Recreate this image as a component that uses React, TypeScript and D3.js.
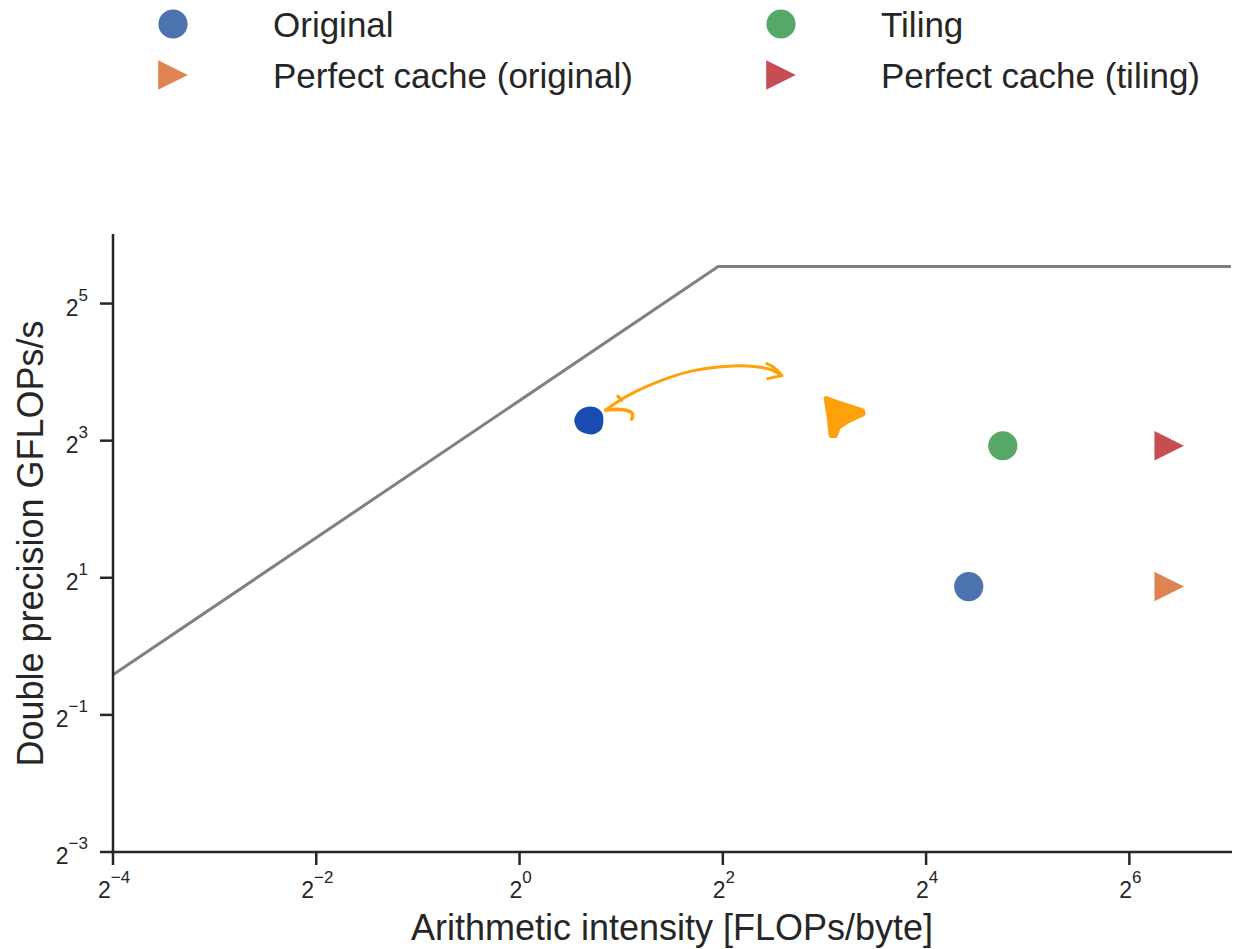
import React from "react";
import * as d3 from "d3";

// Roofline model parameters
const PEAK_GFLOPS = 46.5;
const BANDWIDTH_GBS = 12;

// Measured kernels
const seriesNames = ["Original", "Tiling", "Perfect cache (original)", "Perfect cache (tiling)"];
const intensity = [21.4, 27.0, 84, 84];
const gflops = [1.83, 7.6, 1.83, 7.6];
const seriesColors = ["#4C72B0", "#55A868", "#DD8452", "#C44E52"];
const seriesMarkers = ["circle", "circle", "triangle", "triangle"];

// Legend layout: two columns, rows filled column-wise
const legendOrder = [0, 2, 1, 3];

// Axis ticks (log2 exponents)
const xTickExps = [-4, -2, 0, 2, 4, 6];
const yTickExps = [-3, -1, 1, 3, 5];

// Hand-drawn annotation: a kernel moved from one spot to another
const annotBlob = { x: 1.61, y: 9.8 };
const annotTriangle = { x: 9.09, y: 10.41 };
const annotArrow: [number, number][] = [
  [1.8, 10.9],
  [2.05, 12.4],
  [2.6, 14.6],
  [3.25, 16.2],
  [4.05, 16.95],
  [4.95, 16.95],
  [5.55, 16.4],
  [5.98, 15.44],
];

const W = 1236;
const H = 949;
const AX = "#262626";
const FONT = "'Liberation Sans', Arial, Helvetica, sans-serif";
const ORANGE = "#FFA10A";

const x = d3.scaleLog().base(2).domain([2 ** -4, 2 ** 7]).range([113, 1231]);
const y = d3.scaleLog().base(2).domain([2 ** -3, 2 ** 6]).range([852, 235]);

function Marker({ kind, cx, cy, color }: { kind: string; cx: number; cy: number; color: string }) {
  if (kind === "circle") return <circle cx={cx} cy={cy} r={14.6} fill={color} />;
  const s = 14.8;
  return (
    <path
      d={`M${cx + s},${cy} L${cx - s},${cy - s} L${cx - s},${cy + s} Z`}
      fill={color}
    />
  );
}

function Pow2({ exp, fs, supFs, supDy }: { exp: number; fs: number; supFs: number; supDy: number }) {
  const s = exp < 0 ? `\u2212${Math.abs(exp)}` : `${exp}`;
  return (
    <>
      <tspan fontSize={fs}>2</tspan>
      <tspan fontSize={supFs} dy={supDy}>
        {s}
      </tspan>
    </>
  );
}

export default function App() {
  const xMin = x.domain()[0];
  const xMax = x.domain()[1];
  const ridge = PEAK_GFLOPS / BANDWIDTH_GBS;
  const roofPts: [number, number][] = [
    [xMin, xMin * BANDWIDTH_GBS],
    [ridge, PEAK_GFLOPS],
    [xMax, PEAK_GFLOPS],
  ];
  const roofLine = d3
    .line<[number, number]>()
    .x((d) => x(d[0]))
    .y((d) => y(d[1]))(roofPts);

  const arrowPath = d3
    .line<[number, number]>()
    .x((d) => x(d[0]))
    .y((d) => y(d[1]))
    .curve(d3.curveCatmullRom)(annotArrow);

  const aStart = annotArrow[0];
  const aEnd = annotArrow[annotArrow.length - 1];
  const sx = x(aStart[0]);
  const sy = y(aStart[1]);
  const ex = x(aEnd[0]);
  const ey = y(aEnd[1]);

  // Irregular blob outline
  const blobR = [14.4, 15.0, 14.0, 14.8, 14.2, 13.6, 14.5, 15.1, 14.3, 13.9];
  const bx = x(annotBlob.x);
  const by = y(annotBlob.y);
  const blobPath = d3
    .lineRadial<number>()
    .angle((_, i) => (i / blobR.length) * 2 * Math.PI)
    .radius((d) => d)
    .curve(d3.curveCardinalClosed)(blobR);

  const tx = x(annotTriangle.x);
  const ty = y(annotTriangle.y);
  const triShape: [number, number][] = [
    [-17, -16], [-6, -12], [19, -4], [20, -1], [5, 6], [-1, 10], [-5, 13],
    [-8, 21], [-12, 21], [-14, 3],
  ];
  const triPath = d3
    .line<[number, number]>()
    .x((d) => tx + d[0])
    .y((d) => ty + d[1])
    .curve(d3.curveLinearClosed)(triShape);

  const axisMidX = (x.range()[0] + x.range()[1]) / 2;
  const axisMidY = (y.range()[0] + y.range()[1]) / 2;

  return (
    <svg
      width={W}
      height={H}
      viewBox={`0 0 ${W} ${H}`}
      style={{ position: "absolute", left: 0, top: 0, background: "#fff" }}
      fontFamily={FONT}
    >
      <rect width={W} height={H} fill="#fff" />

      {/* Legend */}
      {legendOrder.map((si, k) => {
        const col = Math.floor(k / 2);
        const row = k % 2;
        const mx = col === 0 ? 173 : 781;
        const my = row === 0 ? 24 : 75;
        return (
          <g key={si}>
            <Marker kind={seriesMarkers[si]} cx={mx} cy={my} color={seriesColors[si]} />
            <text x={mx + 100} y={my + 13} fontSize={35} fill={AX}>
              {seriesNames[si]}
            </text>
          </g>
        );
      })}

      {/* Roofline */}
      <path d={roofLine ?? ""} fill="none" stroke="#808080" strokeWidth={3} />

      {/* Data points */}
      {intensity.map((v, i) => (
        <Marker key={i} kind={seriesMarkers[i]} cx={x(v)} cy={y(gflops[i])} color={seriesColors[i]} />
      ))}

      {/* Hand-drawn annotation */}
      <path d={blobPath ?? ""} transform={`translate(${bx},${by}) rotate(20)`} fill="#1A4BB3" />
      <path
        d={arrowPath ?? ""}
        fill="none"
        stroke={ORANGE}
        strokeWidth={3}
        strokeLinecap="round"
        strokeLinejoin="round"
      />
      <path
        d={`M${sx},${sy} C${sx + 8},${sy - 1} ${sx + 20},${sy - 1} ${sx + 25},${sy + 2} C${sx + 28},${sy + 4} ${sx + 27},${sy + 7} ${sx + 26},${sy + 9}`}
        fill="none"
        stroke={ORANGE}
        strokeWidth={3.5}
        strokeLinecap="round"
      />
      <path
        d={`M${sx + 12},${sy - 14} L${sx + 16},${sy - 10}`}
        fill="none"
        stroke={ORANGE}
        strokeWidth={3}
        strokeLinecap="round"
      />
      <path
        d={`M${ex - 15},${ey - 12} C${ex - 10},${ey - 10} ${ex - 4},${ey - 6} ${ex},${ey} L${ex - 14},${ey + 3}`}
        fill="none"
        stroke={ORANGE}
        strokeWidth={3}
        strokeLinecap="round"
        strokeLinejoin="round"
      />
      <path
        d={triPath ?? ""}
        fill={ORANGE}
        stroke={ORANGE}
        strokeWidth={5}
        strokeLinejoin="round"
      />

      {/* Axes */}
      <line x1={113} y1={234} x2={113} y2={853.25} stroke={AX} strokeWidth={2.5} />
      <line x1={111.75} y1={852} x2={1232} y2={852} stroke={AX} strokeWidth={2.5} />

      {xTickExps.map((e) => {
        const px = x(2 ** e);
        return (
          <g key={`xt${e}`}>
            <line x1={px} y1={852} x2={px} y2={865} stroke={AX} strokeWidth={2.5} />
            <text x={px + 1} y={898} textAnchor="middle" fill={AX}>
              <Pow2 exp={e} fs={23} supFs={17} supDy={-15} />
            </text>
          </g>
        );
      })}

      {yTickExps.map((e) => {
        const py = y(2 ** e);
        return (
          <g key={`yt${e}`}>
            <line x1={100} y1={py} x2={113} y2={py} stroke={AX} strokeWidth={2.5} />
            <text x={88} y={py + 12} textAnchor="end" fill={AX}>
              <Pow2 exp={e} fs={23} supFs={17} supDy={-15} />
            </text>
          </g>
        );
      })}

      <text x={axisMidX} y={940} textAnchor="middle" fontSize={36} fill={AX}>
        Arithmetic intensity [FLOPs/byte]
      </text>
      <text
        transform={`translate(43,${axisMidY}) rotate(-90)`}
        textAnchor="middle"
        fontSize={36}
        fill={AX}
      >
        Double precision GFLOPs/s
      </text>
    </svg>
  );
}
